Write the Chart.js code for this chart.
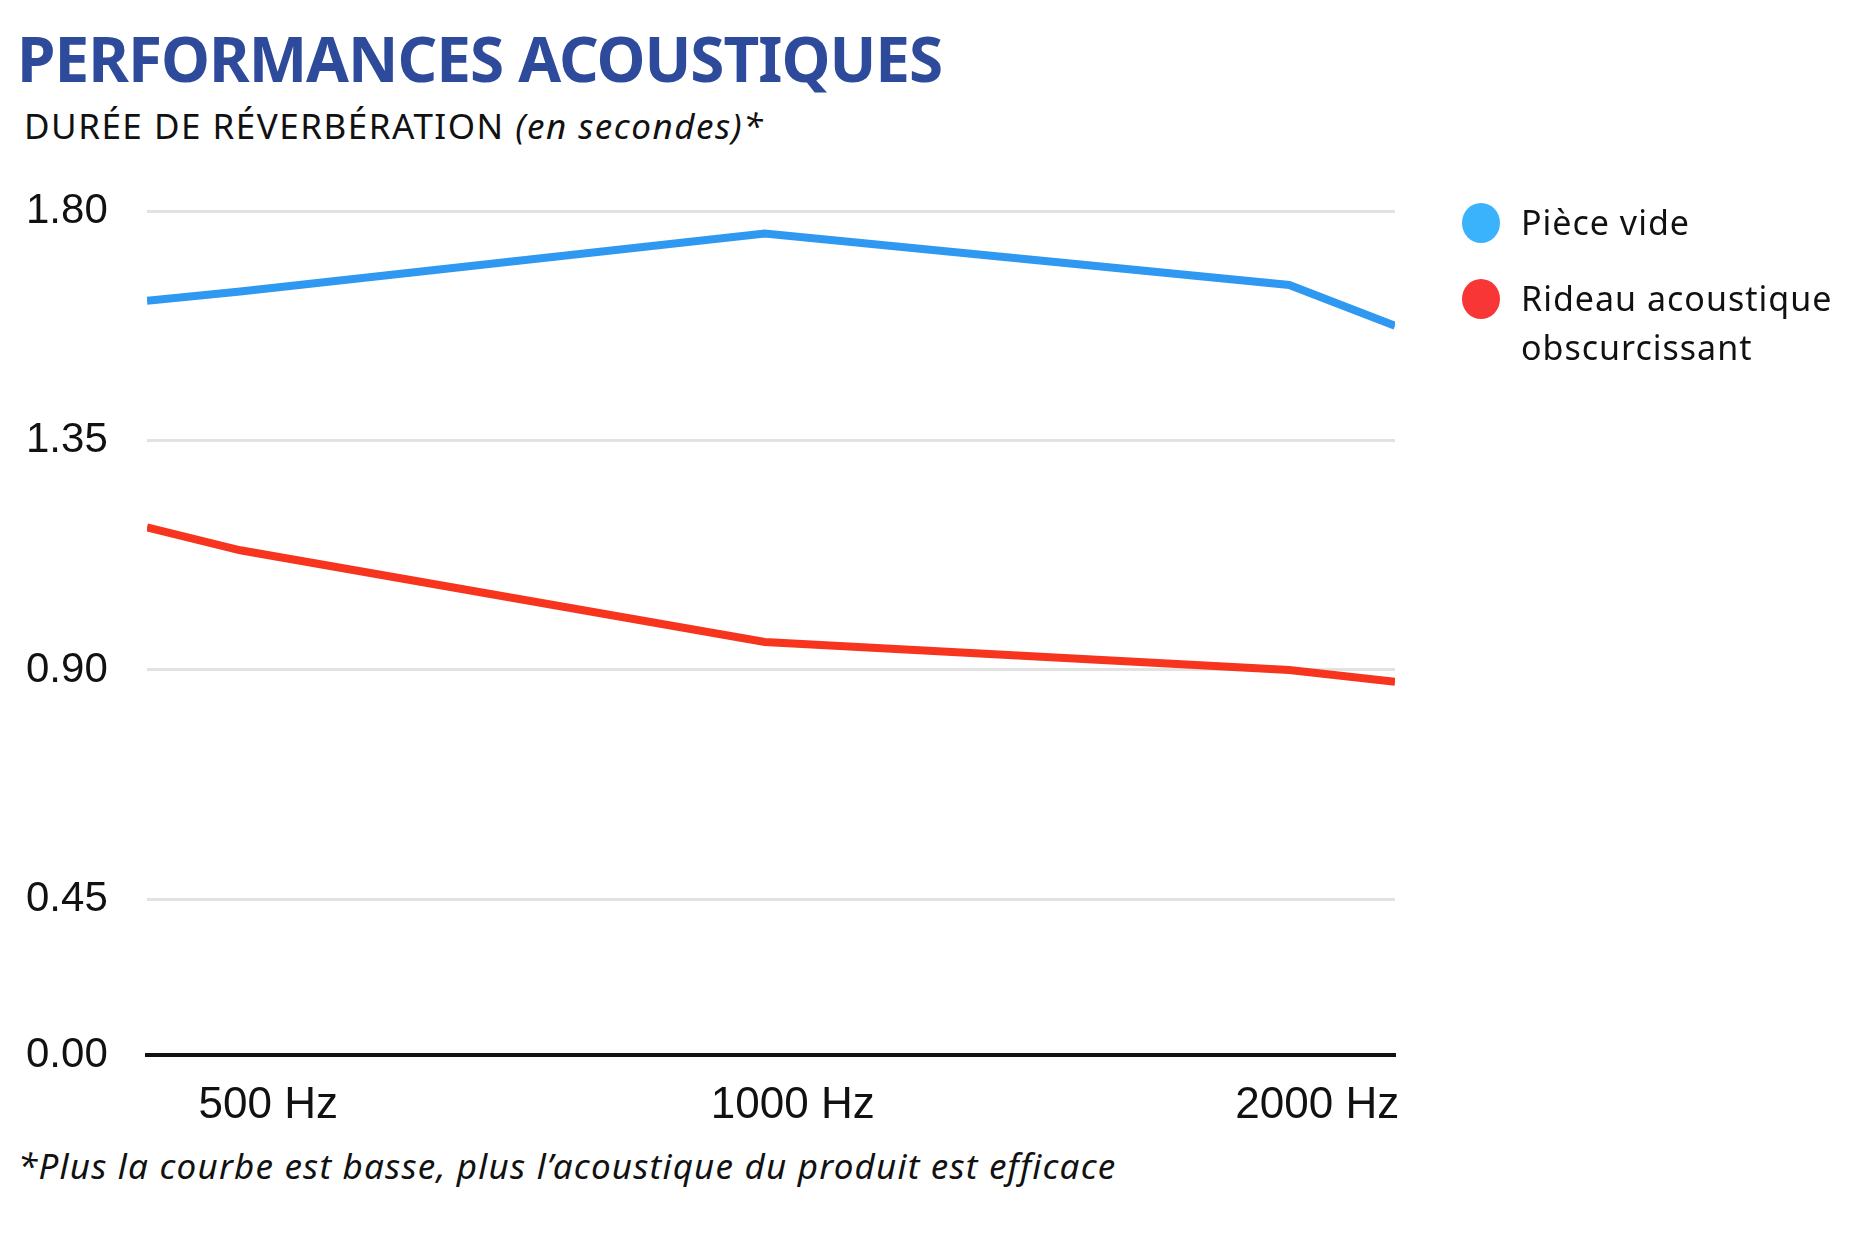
<!DOCTYPE html>
<html lang="fr">
<head>
<meta charset="utf-8">
<script src="https://cdn.jsdelivr.net/npm/chart.js@4"></script>
<style>
    body { margin: 0; background: #fff; width: 1875px; height: 1250px; position: relative; font-family: "Noto Sans", sans-serif; color: #111; }
    h1 { position: absolute; left: 17px; top: 16px; margin: 0; font-size: 62px; font-weight: 700; color: #2E4B9B; letter-spacing: -1px; }
    .sous-titre { position: absolute; left: 24px; top: 102px; margin: 0; font-size: 35px; letter-spacing: 1.5px; }
    .note { position: absolute; left: 18px; top: 1142px; margin: 0; font-size: 35px; font-style: italic; letter-spacing: 1.2px; }
    #chartBox { position: absolute; left: 26px; top: 150px; width: 1449px; height: 985px; }
    .legende { position: absolute; left: 1462px; top: 198px; font-size: 34px; line-height: 49px; letter-spacing: 1px; }
    .legende div { position: relative; padding-left: 59px; margin-bottom: 27px; }
    .legende span { position: absolute; left: 0; top: 5px; width: 38px; height: 40px; border-radius: 50%; }
</style>
</head>
<body>
<h1>PERFORMANCES ACOUSTIQUES</h1>
<p class="sous-titre">DURÉE DE RÉVERBÉRATION <i>(en secondes)*</i></p>
<div id="chartBox"><canvas id="courbe"></canvas></div>
<div class="legende">
    <div><span style="background:#3BB2FC"></span>Pièce vide</div>
    <div><span style="background:#F93636"></span>Rideau acoustique<br>obscurcissant</div>
</div>
<p class="note">*Plus la courbe est basse, plus l’acoustique du produit est efficace</p>

<script>
// fréquences (Hz), bords du tracé compris
const frequences = [442, 500, 1000, 2000, 2300];
const pieceVide = [1.625, 1.643, 1.757, 1.656, 1.576];
const rideau = [1.18, 1.135, 0.955, 0.90, 0.877];

const xTicks = [500, 1000, 2000];
const yTicks = [0.45, 0.90, 1.35, 1.80];
const yMin = 0.144;
const yMax = 1.862;

const toPoints = (vals) => vals.map((v, i) => ({ x: frequences[i], y: v }));

const ctx = document.getElementById('courbe').getContext('2d');

new Chart(ctx, {
    type: 'line',
    data: {
        datasets: [
            {
                label: 'Pièce vide',
                data: toPoints(pieceVide),
                borderColor: '#2F98F1',
                borderWidth: 8,
                pointRadius: 0,
                tension: 0
            },
            {
                label: 'Rideau acoustique obscurcissant',
                data: toPoints(rideau),
                borderColor: '#F7351F',
                borderWidth: 8,
                pointRadius: 0,
                tension: 0
            }
        ]
    },
    options: {
        animation: false,
        responsive: true,
        maintainAspectRatio: false,
        devicePixelRatio: 1,
        layout: { padding: { top: 30, right: 80, left: 0, bottom: 0 } },
        plugins: {
            legend: { display: false },
            tooltip: { enabled: false }
        },
        scales: {
            x: {
                type: 'logarithmic',
                min: frequences[0],
                max: frequences[frequences.length - 1],
                afterBuildTicks: (scale) => { scale.ticks = xTicks.map(v => ({ value: v })); },
                afterFit: (scale) => { scale.height = 80; },
                grid: { display: false, drawTicks: false },
                border: { display: true, color: '#111', width: 4 },
                ticks: {
                    autoSkip: false,
                    maxRotation: 0,
                    padding: 24,
                    labelOffset: 28,
                    color: '#111',
                    font: { family: 'Liberation Sans', size: 44 },
                    callback: (v) => v + ' Hz'
                }
            },
            y: {
                min: yMin,
                max: yMax,
                afterBuildTicks: (scale) => {
                    scale.ticks = [{ value: yMin }].concat(yTicks.map(v => ({ value: v })));
                },
                afterFit: (scale) => { scale.width = 121; },
                border: { display: false },
                grid: {
                    drawTicks: false,
                    lineWidth: 3,
                    color: (c) => c.tick && c.tick.value === yMin ? 'rgba(0,0,0,0)' : '#E2E2E2'
                },
                ticks: {
                    crossAlign: 'far',
                    color: '#111',
                    font: { family: 'Liberation Sans', size: 42 },
                    callback: (v) => v === yMin ? '0.00' : v.toFixed(2)
                }
            }
        }
    }
});
</script>
</body>
</html>
